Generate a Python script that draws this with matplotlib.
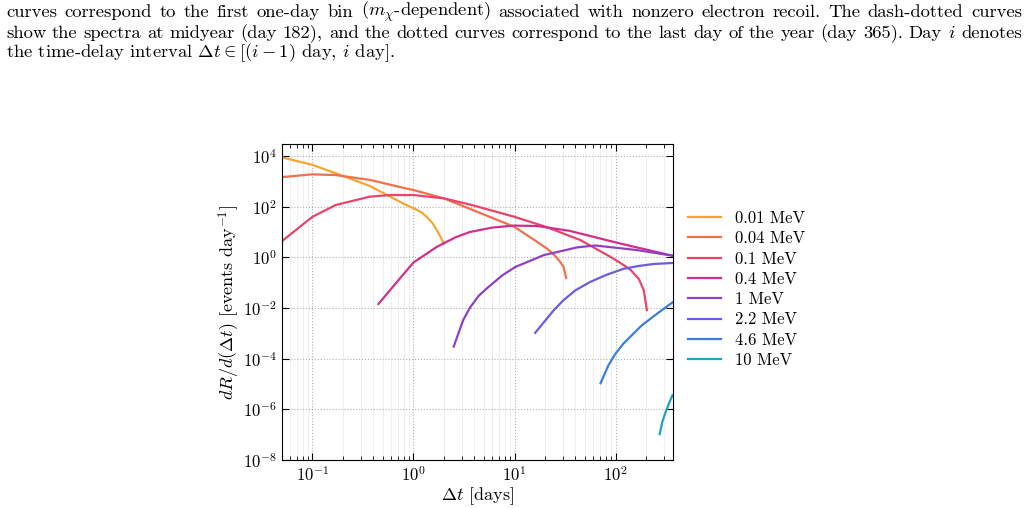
import numpy as np
import matplotlib
matplotlib.use("Agg")
import matplotlib.pyplot as plt
from matplotlib.ticker import LogLocator, NullLocator, NullFormatter

plt.rcParams.update({
    "font.family": "cmr10",
    "mathtext.fontset": "cm",
    "axes.unicode_minus": False,
    "axes.formatter.use_mathtext": True,
})

# dark matter masses and their colours
labels = ["0.01 MeV", "0.04 MeV", "0.1 MeV", "0.4 MeV", "1 MeV", "2.2 MeV", "4.6 MeV", "10 MeV"]
colors = ["#f5a532", "#f2704c", "#e9446a", "#d0308c", "#9040c8", "#6a5de0", "#3a7ee0", "#23a0c8"]

# time delay [days] and dR/d(dt) [events/day]
t_001 = [0.05, 0.1, 0.17, 0.37, 0.79, 1.0, 1.2, 1.35, 1.55, 1.7, 1.85, 2.0]
r_001 = [8900, 4500, 2100, 660, 135, 87, 60, 40, 22, 12, 6.5, 3.5]

t_004 = [0.05, 0.1, 0.17, 0.37, 0.79, 1.0, 2.0, 3.6, 10, 16.6, 21, 24.5, 28, 30.5, 32.4]
r_004 = [1480, 1900, 1780, 1150, 560, 457, 214, 83, 16, 4.2, 2.2, 1.3, 0.7, 0.43, 0.155]

t_01 = [0.05, 0.1, 0.17, 0.37, 0.59, 1.0, 2.0, 3.6, 10, 21, 45, 89, 120, 141, 170, 190, 204]
r_01 = [4.4, 40, 117, 250, 290, 290, 214, 123, 40, 15.5, 4.8, 1.05, 0.5, 0.32, 0.14, 0.051, 0.0083]

t_04 = [0.45, 0.71, 1.0, 1.7, 2.6, 3.6, 6.0, 9.8, 16.6, 35, 112, 365]
r_04 = [0.0145, 0.126, 0.63, 2.6, 6.2, 10, 15, 18, 17.4, 11.2, 3.5, 1.17]

t_1 = [2.5, 3.1, 3.6, 4.4, 5.4, 7.5, 10.2, 19.5, 42, 63, 162, 365]
r_1 = [3.0e-4, 3.3e-3, 0.01, 0.03, 0.063, 0.19, 0.42, 1.23, 2.5, 2.95, 1.95, 1.17]

t_22 = [16, 24.5, 30.5, 40, 56, 80, 120, 170, 240, 365]
r_22 = [1.05e-3, 8.3e-3, 0.0204, 0.05, 0.107, 0.2, 0.355, 0.46, 0.55, 0.60]

t_46 = [71, 85, 100, 120, 145, 180, 229, 290, 365]
r_46 = [1.07e-5, 5.5e-5, 1.6e-4, 4.0e-4, 8.5e-4, 2.0e-3, 4.2e-3, 8.5e-3, 0.0166]

t_10 = [273, 290, 309, 335, 365]
r_10 = [1.05e-7, 3.2e-7, 6.8e-7, 1.6e-6, 3.6e-6]

times = [t_001, t_004, t_01, t_04, t_1, t_22, t_46, t_10]
rates = [r_001, r_004, r_01, r_04, r_1, r_22, r_46, r_10]

caption = [
    r"curves correspond to the first one-day bin ($m_\chi$-dependent) associated with nonzero electron recoil.  The dash-dotted curves",
    r"show the spectra at midyear (day 182), and the dotted curves correspond to the last day of the year (day 365). Day $i$ denotes",
    r"the time-delay interval $\Delta t \in [(i-1)$ day, $i$ day$]$.",
]

W, H = 1028, 508
fig = plt.figure(figsize=(W / 100, H / 100), dpi=100)
ax = fig.add_axes([282 / W, 1 - 460 / H, 391 / W, 316 / H])

for t, r, c, lab in zip(times, rates, colors, labels):
    ax.plot(t, r, color=c, lw=1.6, label=lab)

ax.set_xscale("log")
ax.set_yscale("log")
ax.set_xlim(0.05, 370)
ax.set_ylim(1e-8, 3e4)
ax.set_yticks([1e-8, 1e-6, 1e-4, 1e-2, 1e0, 1e2, 1e4])
ax.yaxis.set_minor_locator(NullLocator())
ax.xaxis.set_minor_locator(LogLocator(base=10, subs=np.arange(2, 10), numticks=20))
ax.xaxis.set_minor_formatter(NullFormatter())

ax.tick_params(which="both", direction="in", top=True, right=True, labelsize=12)
ax.tick_params(which="major", length=5)
ax.tick_params(which="minor", length=3)
ax.grid(which="major", ls=":", color="#b0b0b0", lw=0.8)
ax.grid(which="minor", axis="x", ls="-", color="#ececec", lw=0.6)
ax.set_axisbelow(True)

ax.set_xlabel(r"$\Delta t$ [days]", fontsize=13, labelpad=1)
ax.set_ylabel(r"$dR/d(\Delta t)$ [events day$^{-1}$]", fontsize=13, labelpad=1)

ax.legend(loc="center left", bbox_to_anchor=(1.0, 0.54), frameon=False,
          fontsize=12, handlelength=2.0, labelspacing=0.3)

# caption lines, first two justified to the page width
renderer = fig.canvas.get_renderer()
ys = [12, 33, 53]
x0, x1 = 6, 1022
fs = 13.4
for k, (line, yp) in enumerate(zip(caption, ys)):
    if k == 2:
        fig.text(x0 / W, 1 - yp / H, line, fontsize=fs, va="center", ha="left")
        continue
    words = [w for w in line.split(" ") if w]
    objs = [fig.text(0, 1 - yp / H, w, fontsize=fs, va="center", ha="left") for w in words]
    widths = [o.get_window_extent(renderer).width for o in objs]
    gap = (x1 - x0 - sum(widths)) / (len(words) - 1)
    x = x0
    for o, w in zip(objs, widths):
        o.set_x(x / W)
        x += w + gap

fig.savefig("out.png", dpi=100)
